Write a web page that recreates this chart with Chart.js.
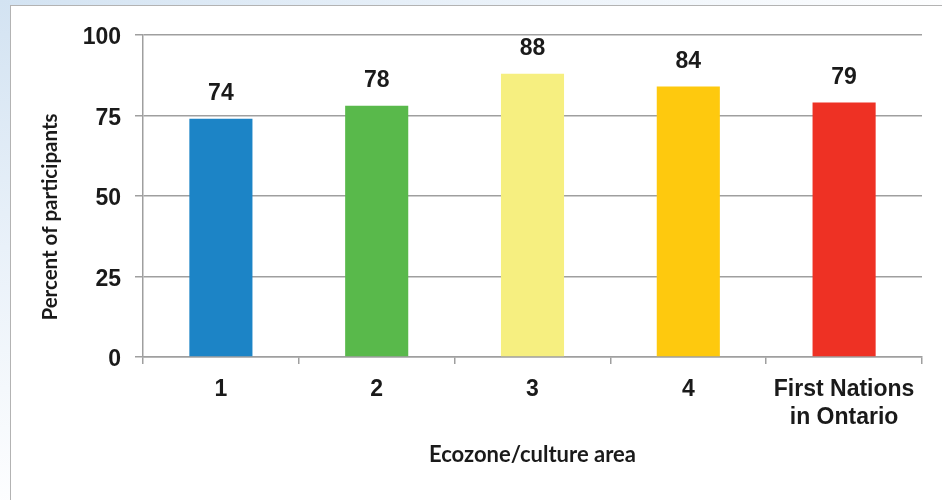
<!DOCTYPE html>
<html>
<head>
<meta charset="utf-8">
<title>Ecozone/culture area</title>
<script src="https://cdn.jsdelivr.net/npm/chart.js@4/dist/chart.umd.min.js"></script>
<style>
    html, body {
        margin: 0;
        padding: 0;
        width: 942px;
        height: 500px;
        overflow: hidden;
    }
    body {
        position: relative;
        background: radial-gradient(ellipse at 0 0, #d3e3f2 0%, #e9f1f9 35%, #ffffff 75%);
    }
    .panel {
        position: absolute;
        left: 10px;
        top: 5px;
        width: 940px;
        height: 500px;
        background: #ffffff;
        border: 1.5px solid #b3b3b3;
        box-sizing: border-box;
    }
    #chart {
        position: absolute;
        left: 0;
        top: 0;
    }
</style>
</head>
<body>
<div class="panel"></div>
<canvas id="chart" width="942" height="500"></canvas>
<script>
    'use strict';

    // 各区域数据
    var categories = ['1', '2', '3', '4', ['First Nations', 'in Ontario']];
    var percentValues = [74, 78, 88, 84, 79];
    var barColors = ['#1c84c6', '#59b94b', '#f6ef80', '#fec90e', '#ee3124'];
    var yTicks = [0, 25, 50, 75, 100];

    var xTitle = 'Ecozone/culture area';
    var yTitle = 'Percent of participants';

    var GRID = '#9f9f9f';
    var TEXT = '#1a1a1a';
    var ARIAL = '"Liberation Sans", Arial, sans-serif';
    var CALIBRI = 'Lato, "Open Sans", sans-serif';

    // 柱顶数值标签
    var valueLabels = {
        id: 'valueLabels',
        afterDatasetsDraw: function (chart) {
            var ctx = chart.ctx;
            var meta = chart.getDatasetMeta(0);
            ctx.save();
            ctx.font = 'bold 23px ' + ARIAL;
            ctx.fillStyle = TEXT;
            ctx.textAlign = 'center';
            ctx.textBaseline = 'middle';
            meta.data.forEach(function (bar, i) {
                ctx.fillText(String(percentValues[i]), bar.x, bar.y - 25);
            });
            ctx.restore();
        }
    };

    // 纵轴标题（略低于绘图区中线）
    var sideTitle = {
        id: 'sideTitle',
        afterDraw: function (chart) {
            var ctx = chart.ctx;
            var area = chart.chartArea;
            ctx.save();
            ctx.translate(50, (area.top + area.bottom) / 2 + 21);
            ctx.rotate(-Math.PI / 2);
            ctx.font = 'bold 20.5px ' + CALIBRI;
            ctx.fillStyle = TEXT;
            ctx.textAlign = 'center';
            ctx.textBaseline = 'middle';
            ctx.fillText(yTitle, 0, 0);
            ctx.restore();
        }
    };

    var ctx = document.getElementById('chart').getContext('2d');

    new Chart(ctx, {
        type: 'bar',
        data: {
            labels: categories,
            datasets: [{
                data: percentValues,
                backgroundColor: barColors,
                borderWidth: 0,
                categoryPercentage: 1,
                barPercentage: 0.405
            }]
        },
        options: {
            responsive: false,
            animation: false,
            layout: {
                padding: { top: 35, right: 20, left: 0, bottom: 0 }
            },
            plugins: {
                legend: { display: false },
                tooltip: { enabled: false }
            },
            scales: {
                x: {
                    afterFit: function (scale) { scale.height = 143; },
                    grid: {
                        offset: true,
                        drawOnChartArea: false,
                        drawTicks: true,
                        tickLength: 7,
                        color: GRID,
                        lineWidth: 1.5
                    },
                    border: { color: GRID, width: 1.5 },
                    ticks: {
                        color: TEXT,
                        padding: 11,
                        maxRotation: 0,
                        font: { family: ARIAL, size: 23, weight: 'bold', lineHeight: 1.25 }
                    },
                    title: {
                        display: true,
                        text: xTitle,
                        color: TEXT,
                        padding: { top: 0, bottom: 32 },
                        font: { family: CALIBRI, size: 22, weight: 'bold' }
                    }
                },
                y: {
                    min: 0,
                    max: 100,
                    afterFit: function (scale) { scale.width = 143; },
                    afterBuildTicks: function (scale) {
                        scale.ticks = yTicks.map(function (v) { return { value: v }; });
                    },
                    grid: {
                        color: GRID,
                        lineWidth: 1.5,
                        drawTicks: true,
                        tickLength: 8
                    },
                    border: { color: GRID, width: 1.5 },
                    ticks: {
                        color: TEXT,
                        padding: 14,
                        labelOffset: 3,
                        font: { family: ARIAL, size: 23, weight: 'bold' }
                    }
                }
            }
        },
        plugins: [valueLabels, sideTitle]
    });
</script>
</body>
</html>
